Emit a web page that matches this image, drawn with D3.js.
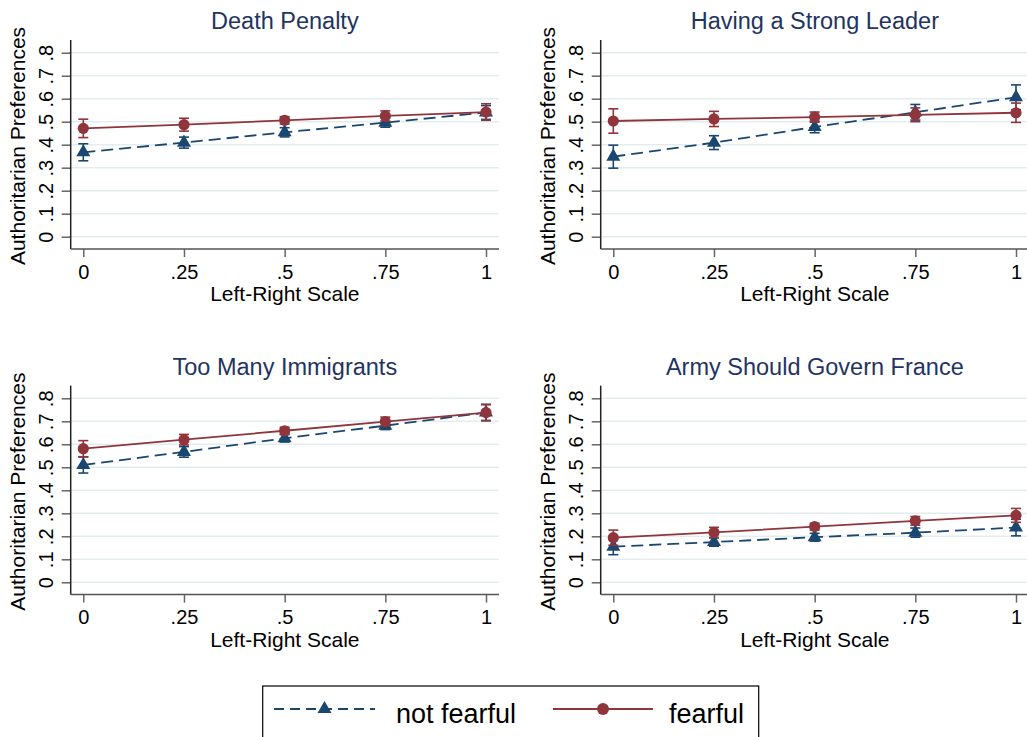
<!DOCTYPE html>
<html>
<head>
<meta charset="utf-8">
<script src="https://cdn.jsdelivr.net/npm/d3@7"></script>
<style>
  body { margin: 0; background: #fff; }
  svg { display: block; font-family: "Liberation Sans", Arial, Helvetica, sans-serif; }
</style>
</head>
<body>
<div id="chart"></div>
<script>
// chart data
const panelTitles = ["Death Penalty", "Having a Strong Leader", "Too Many Immigrants", "Army Should Govern France"];
const xVals = [0, 0.25, 0.5, 0.75, 1];
const xTickLabels = ["0", ".25", ".5", ".75", "1"];
const yTicks = [0, 0.1, 0.2, 0.3, 0.4, 0.5, 0.6, 0.7, 0.8];
const yTickLabels = ["0", ".1", ".2", ".3", ".4", ".5", ".6", ".7", ".8"];
const seriesNames = ["not fearful", "fearful"];

// not fearful: point estimates and half-width of the CI
const notFearful = [
  [0.367, 0.409, 0.454, 0.496, 0.540],
  [0.348, 0.409, 0.477, 0.541, 0.606],
  [0.510, 0.567, 0.626, 0.681, 0.738],
  [0.155, 0.175, 0.196, 0.216, 0.238]
];
const notFearfulCI = [
  [0.037, 0.024, 0.020, 0.020, 0.030],
  [0.050, 0.030, 0.025, 0.034, 0.054],
  [0.035, 0.023, 0.016, 0.017, 0.036],
  [0.035, 0.018, 0.017, 0.020, 0.036]
];
// fearful
const fearful = [
  [0.471, 0.487, 0.506, 0.525, 0.542],
  [0.503, 0.512, 0.520, 0.530, 0.539],
  [0.581, 0.620, 0.659, 0.699, 0.738],
  [0.194, 0.217, 0.242, 0.267, 0.291]
];
const fearfulCI = [
  [0.040, 0.028, 0.016, 0.022, 0.036],
  [0.053, 0.033, 0.022, 0.030, 0.042],
  [0.035, 0.023, 0.015, 0.019, 0.034],
  [0.033, 0.022, 0.015, 0.019, 0.030]
];

const W = 1027, H = 737;
const blue = "#1a476f", red = "#90353b", titleCol = "#1f3461";

// panel geometry (panel 1 coordinates, others shifted)
const plot = { left: 70.7, right: 499, top: 40, bottom: 249 };
const colShift = 530, rowShift = 345.6;

const x = d3.scaleLinear().domain([0, 1]).range([83.3, 486]);
const y = d3.scaleLinear().domain([0, 0.8]).range([236.7, 52.7]);

const svg = d3.select("#chart").append("svg")
  .attr("width", W).attr("height", H)
  .attr("viewBox", `0 0 ${W} ${H}`);

svg.append("rect").attr("width", W).attr("height", H).attr("fill", "#fff");

const triangle = d3.symbol().type(d3.symbolTriangle).size(85);

function drawPanel(i) {
  const g = svg.append("g")
    .attr("transform", `translate(${(i % 2) * colShift},${Math.floor(i / 2) * rowShift})`);

  // gridlines
  g.append("g").selectAll("line").data(yTicks).join("line")
    .attr("x1", plot.left).attr("x2", plot.right)
    .attr("y1", d => y(d)).attr("y2", d => y(d))
    .attr("stroke", "#e3edf0").attr("stroke-width", 1.5);

  // y axis
  const yAxis = g.append("g").attr("transform", `translate(${plot.left},0)`)
    .call(d3.axisLeft(y).tickValues(yTicks).tickSize(9)
      .tickFormat((d, k) => yTickLabels[k]));
  yAxis.select(".domain").remove();
  yAxis.selectAll(".tick line").attr("stroke", "#666").attr("stroke-width", 1.5);
  yAxis.selectAll(".tick text")
    .attr("transform", "rotate(-90)")
    .attr("x", 0).attr("y", -17.3).attr("dy", 0)
    .attr("text-anchor", "middle")
    .attr("font-size", 20).attr("fill", "#000");

  // x axis
  const xAxis = g.append("g").attr("transform", `translate(0,${plot.bottom})`)
    .call(d3.axisBottom(x).tickValues(xVals).tickSize(8)
      .tickFormat((d, k) => xTickLabels[k]));
  xAxis.select(".domain").remove();
  xAxis.selectAll(".tick line").attr("stroke", "#666").attr("stroke-width", 1.5);
  xAxis.selectAll(".tick text")
    .attr("y", 29.5).attr("dy", 0)
    .attr("font-size", 20).attr("fill", "#000");

  // axis lines
  g.append("line").attr("x1", plot.left).attr("x2", plot.left)
    .attr("y1", plot.top).attr("y2", plot.bottom)
    .attr("stroke", "#222").attr("stroke-width", 1.5);
  g.append("line").attr("x1", plot.left).attr("x2", plot.right)
    .attr("y1", plot.bottom).attr("y2", plot.bottom)
    .attr("stroke", "#555").attr("stroke-width", 1.5);

  // titles
  const cx = (plot.left + plot.right) / 2;
  g.append("text").attr("x", cx).attr("y", 29)
    .attr("text-anchor", "middle").attr("font-size", 23.5).attr("fill", titleCol)
    .text(panelTitles[i]);
  g.append("text").attr("x", cx).attr("y", 301)
    .attr("text-anchor", "middle").attr("font-size", 21).attr("fill", "#000")
    .text("Left-Right Scale");
  g.append("text")
    .attr("transform", `translate(25,146) rotate(-90)`)
    .attr("text-anchor", "middle").attr("font-size", 21).attr("fill", "#000")
    .text("Authoritarian Preferences");

  const series = [
    { vals: notFearful[i], ci: notFearfulCI[i], color: blue, dash: "12,6", mark: "tri" },
    { vals: fearful[i], ci: fearfulCI[i], color: red, dash: null, mark: "circle" }
  ];

  const line = d3.line().x(d => x(d.x)).y(d => y(d.v));

  series.forEach(s => {
    const pts = xVals.map((xv, k) => ({ x: xv, v: s.vals[k], e: s.ci[k] }));
    const sg = g.append("g");
    // error bars
    const eb = sg.append("g").selectAll("g").data(pts).join("g")
      .attr("stroke", s.color).attr("stroke-width", 1.6);
    eb.append("line").attr("x1", d => x(d.x)).attr("x2", d => x(d.x))
      .attr("y1", d => y(d.v - d.e)).attr("y2", d => y(d.v + d.e));
    eb.append("line").attr("x1", d => x(d.x) - 5).attr("x2", d => x(d.x) + 5)
      .attr("y1", d => y(d.v - d.e)).attr("y2", d => y(d.v - d.e));
    eb.append("line").attr("x1", d => x(d.x) - 5).attr("x2", d => x(d.x) + 5)
      .attr("y1", d => y(d.v + d.e)).attr("y2", d => y(d.v + d.e));
    // connecting line
    sg.append("path").datum(pts).attr("d", line)
      .attr("fill", "none").attr("stroke", s.color).attr("stroke-width", 1.8)
      .attr("stroke-dasharray", s.dash);
    // markers
    if (s.mark === "circle") {
      sg.selectAll("circle").data(pts).join("circle")
        .attr("cx", d => x(d.x)).attr("cy", d => y(d.v)).attr("r", 5.6)
        .attr("fill", s.color);
    } else {
      sg.selectAll("path.m").data(pts).join("path").attr("class", "m")
        .attr("d", triangle)
        .attr("transform", d => `translate(${x(d.x)},${y(d.v)})`)
        .attr("fill", s.color);
    }
  });
}

panelTitles.forEach((t, i) => drawPanel(i));

// legend
const leg = svg.append("g");
leg.append("rect").attr("x", 262.7).attr("y", 686).attr("width", 496).attr("height", 80)
  .attr("fill", "#fff").attr("stroke", "#000").attr("stroke-width", 1.2);

const legItems = [
  { name: seriesNames[0], color: blue, dash: "10,6", mark: "tri", x0: 274, x1: 375, tx: 396 },
  { name: seriesNames[1], color: red, dash: null, mark: "circle", x0: 553, x1: 653, tx: 669 }
];
legItems.forEach(it => {
  const ly = 709;
  leg.append("line").attr("x1", it.x0).attr("x2", it.x1).attr("y1", ly).attr("y2", ly)
    .attr("stroke", it.color).attr("stroke-width", 1.8).attr("stroke-dasharray", it.dash);
  const mx = (it.x0 + it.x1) / 2;
  if (it.mark === "circle") {
    leg.append("circle").attr("cx", mx).attr("cy", ly).attr("r", 6).attr("fill", it.color);
  } else {
    leg.append("path").attr("d", triangle).attr("transform", `translate(${mx},${ly})`)
      .attr("fill", it.color);
  }
  leg.append("text").attr("x", it.tx).attr("y", 723).attr("font-size", 27).attr("fill", "#000")
    .text(it.name);
});
</script>
</body>
</html>
